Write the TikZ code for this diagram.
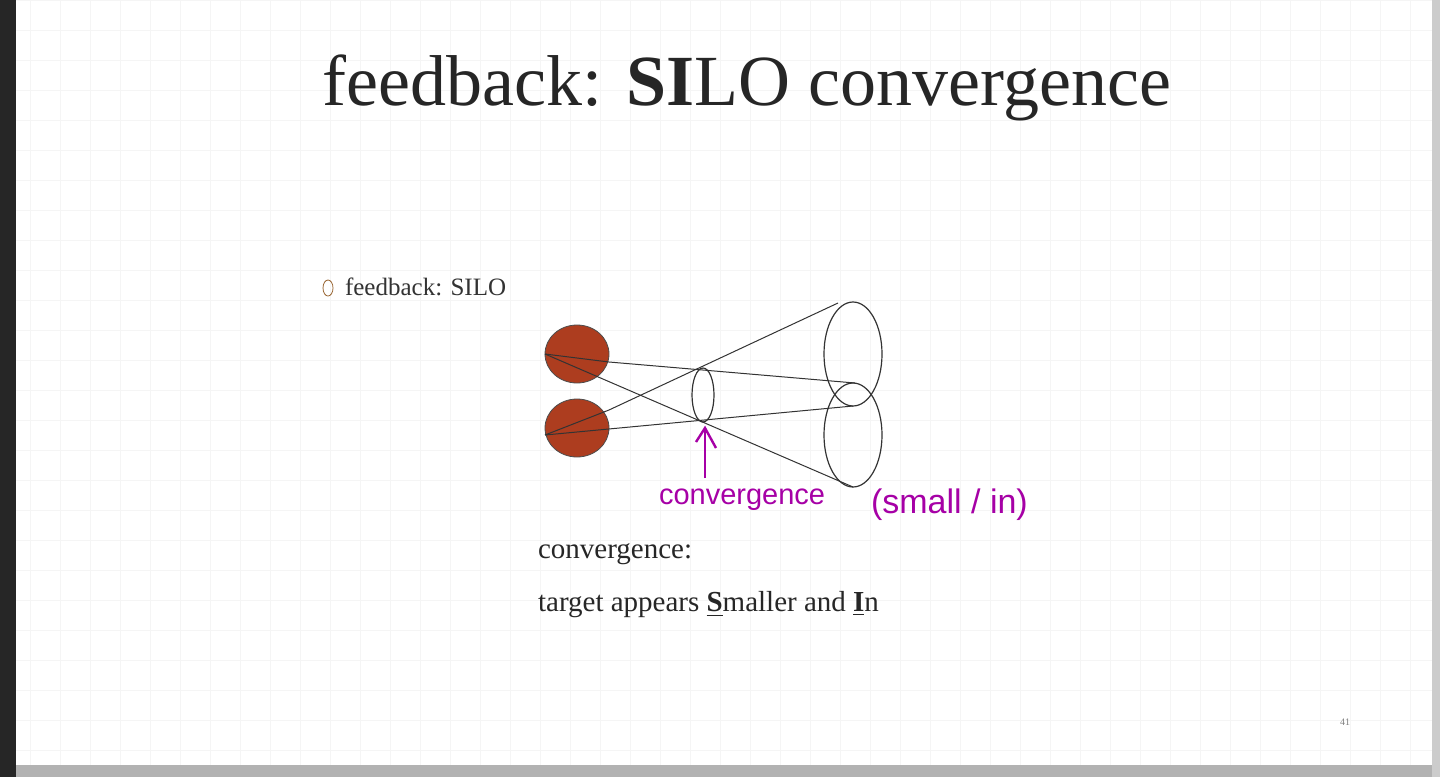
\documentclass[tikz,border=0pt]{standalone}
\usepackage{fontspec}
\usetikzlibrary{shapes.geometric}
\setmainfont{Liberation Serif}
\newfontfamily\hand{Liberation Sans}
\begin{document}
\begin{tikzpicture}[x=0.5pt,y=-0.5pt,
  eye/.style={fill=brown!60!red!80!black,draw=gray!60!black,line width=0.4pt},
  ray/.style={draw=gray!40!black,line width=0.5pt},
  lens/.style={draw=gray!40!black,line width=0.6pt},
  pen/.style={draw=violet!70!magenta,line width=1.2pt}]
\useasboundingbox (0,0) rectangle (1440,777);
\fill[white] (0,0) rectangle (1440,777);
\foreach \i in {0,30,...,1440} \draw[gray!8] (\i,0) -- (\i,777);
\foreach \j in {0,30,...,777} \draw[gray!8] (0,\j) -- (1440,\j);
\fill[black!85] (0,0) rectangle (16,777);
\fill[gray!60] (16,765) rectangle (1440,777);
\fill[gray!40] (1432,0) rectangle (1440,777);
\node (title) at (747,88) {\fontsize{36}{40}\selectfont\color{black!85}feedback: \textbf{SI}LO convergence};
\node[ellipse,draw=brown!80!black,inner sep=0pt,minimum width=5pt,minimum height=8pt] (bul) at (328,288) {};
\node[anchor=west,font=\fontsize{12.5}{15}\selectfont,text=black!80] (fb) at (338,287) {feedback: SILO};
\node[eye,ellipse,minimum width=32pt,minimum height=29pt,inner sep=0pt] (e1) at (577,354) {};
\node[eye,ellipse,minimum width=32pt,minimum height=29pt,inner sep=0pt] (e2) at (577,428) {};
\draw[lens] (703,395) ellipse (11 and 27);
\draw[lens] (853,354) ellipse (29 and 52);
\draw[lens] (853,435) ellipse (29 and 52);
\coordinate (p1) at (545,354);
\coordinate (p2) at (545,435);
\draw[ray] (p1) -- (853,487);
\draw[ray] (p1) -- (609,362) -- (855,383);
\draw[ray] (p2) -- (609,410) -- (838,303);
\draw[ray] (p2) -- (853,406);
\coordinate (ah) at (705,428);
\coordinate (at) at (705,478);
\draw[pen] (at) -- (ah);
\draw[pen] (696,442) -- (ah) -- (716,448);
\node[anchor=west,text=violet!70!magenta,font=\hand\fontsize{14.5}{18}\selectfont] (cv) at (652,500) {convergence};
\node[anchor=west,text=violet!70!magenta,font=\hand\fontsize{17}{20}\selectfont] (cv2) at (864,505) {(small / in)};
\node[anchor=west,font=\fontsize{14.5}{17}\selectfont,text=black!85] (c1) at (531,554) {convergence:};
\node[anchor=west,font=\fontsize{14.5}{17}\selectfont,text=black!85] (c2) at (531,605) {target appears \underline{\textbf{S}}maller and \underline{\textbf{I}}n};
\node[font=\tiny,text=gray] (pg) at (1345,722) {41};
\end{tikzpicture}
\end{document}
